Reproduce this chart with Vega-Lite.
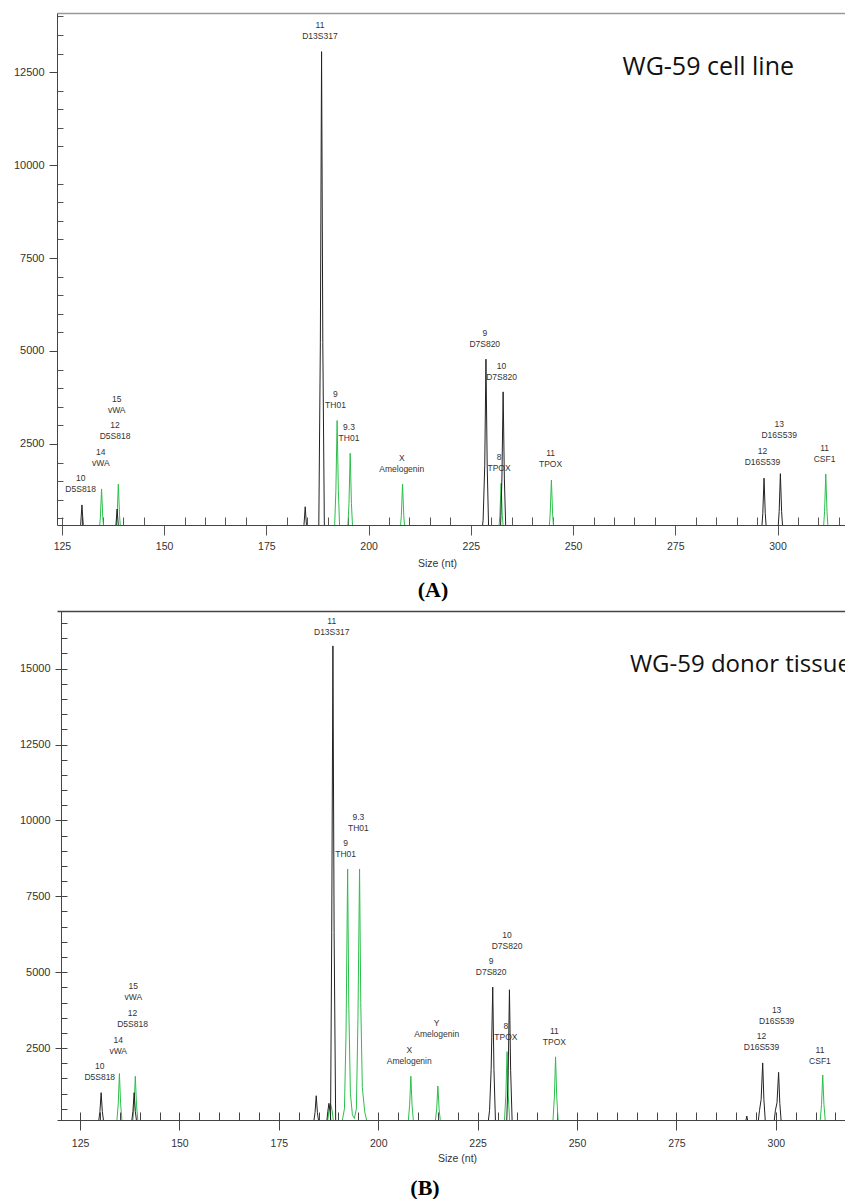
{
  "$schema": "https://vega.github.io/schema/vega-lite/v6.json",
  "padding": {"left": 12, "top": 13, "right": 0, "bottom": 0},
  "spacing": 10,
  "config": {"view": {"stroke": null}, "background": "white"},
  "datasets": {
    "ta": [
      {"s":"k","p":"a1","x":129.2,"y":0},{"s":"k","p":"a1","x":129.6,"y":344},{"s":"k","p":"a1","x":129.9,"y":860},{"s":"k","p":"a1","x":130.2,"y":344},{"s":"k","p":"a1","x":130.6,"y":0},
      {"s":"k","p":"a2","x":137.8,"y":0},{"s":"k","p":"a2","x":138.2,"y":300},{"s":"k","p":"a2","x":138.5,"y":750},{"s":"k","p":"a2","x":138.8,"y":300},{"s":"k","p":"a2","x":139.2,"y":0},
      {"s":"k","p":"a3","x":183.8,"y":0},{"s":"k","p":"a3","x":184.2,"y":324},{"s":"k","p":"a3","x":184.5,"y":810},{"s":"k","p":"a3","x":184.8,"y":324},{"s":"k","p":"a3","x":185.2,"y":0},
      {"s":"k","p":"a4","x":187.8,"y":0},{"s":"k","p":"a4","x":188.2,"y":5220},{"s":"k","p":"a4","x":188.5,"y":13050},{"s":"k","p":"a4","x":188.8,"y":5220},{"s":"k","p":"a4","x":189.2,"y":0},
      {"s":"k","p":"a5","x":227.6,"y":0},{"s":"k","p":"a5","x":228.0,"y":450},{"s":"k","p":"a5","x":228.4,"y":1912},{"s":"k","p":"a5","x":228.7,"y":4780},{"s":"k","p":"a5","x":229.0,"y":1912},{"s":"k","p":"a5","x":229.4,"y":0},
      {"s":"k","p":"a6","x":232.2,"y":0},{"s":"k","p":"a6","x":232.6,"y":1560},{"s":"k","p":"a6","x":232.9,"y":3900},{"s":"k","p":"a6","x":233.2,"y":1560},{"s":"k","p":"a6","x":233.6,"y":0},
      {"s":"k","p":"a7","x":296.0,"y":0},{"s":"k","p":"a7","x":296.4,"y":632},{"s":"k","p":"a7","x":296.7,"y":1580},{"s":"k","p":"a7","x":297.0,"y":632},{"s":"k","p":"a7","x":297.4,"y":0},
      {"s":"k","p":"a8","x":300.0,"y":0},{"s":"k","p":"a8","x":300.4,"y":680},{"s":"k","p":"a8","x":300.7,"y":1700},{"s":"k","p":"a8","x":301.0,"y":680},{"s":"k","p":"a8","x":301.4,"y":0},
      {"s":"g","p":"a9","x":134.0,"y":0},{"s":"g","p":"a9","x":134.4,"y":516},{"s":"g","p":"a9","x":134.7,"y":1290},{"s":"g","p":"a9","x":135.0,"y":516},{"s":"g","p":"a9","x":135.4,"y":0},
      {"s":"g","p":"a10","x":138.1,"y":0},{"s":"g","p":"a10","x":138.5,"y":568},{"s":"g","p":"a10","x":138.8,"y":1420},{"s":"g","p":"a10","x":139.1,"y":568},{"s":"g","p":"a10","x":139.5,"y":0},
      {"s":"g","p":"a11","x":191.6,"y":0},{"s":"g","p":"a11","x":192.0,"y":1252},{"s":"g","p":"a11","x":192.3,"y":3130},{"s":"g","p":"a11","x":192.6,"y":1252},{"s":"g","p":"a11","x":193.0,"y":0},
      {"s":"g","p":"a12","x":194.8,"y":0},{"s":"g","p":"a12","x":195.2,"y":900},{"s":"g","p":"a12","x":195.5,"y":2250},{"s":"g","p":"a12","x":195.8,"y":900},{"s":"g","p":"a12","x":196.2,"y":0},
      {"s":"g","p":"a13","x":207.6,"y":0},{"s":"g","p":"a13","x":208.0,"y":568},{"s":"g","p":"a13","x":208.3,"y":1420},{"s":"g","p":"a13","x":208.6,"y":568},{"s":"g","p":"a13","x":209.0,"y":0},
      {"s":"g","p":"a14","x":231.7,"y":0},{"s":"g","p":"a14","x":232.1,"y":576},{"s":"g","p":"a14","x":232.4,"y":1440},{"s":"g","p":"a14","x":232.7,"y":576},{"s":"g","p":"a14","x":233.1,"y":0},
      {"s":"g","p":"a15","x":244.0,"y":0},{"s":"g","p":"a15","x":244.4,"y":612},{"s":"g","p":"a15","x":244.7,"y":1530},{"s":"g","p":"a15","x":245.0,"y":612},{"s":"g","p":"a15","x":245.4,"y":0},
      {"s":"g","p":"a16","x":311.1,"y":0},{"s":"g","p":"a16","x":311.5,"y":676},{"s":"g","p":"a16","x":311.8,"y":1690},{"s":"g","p":"a16","x":312.1,"y":676},{"s":"g","p":"a16","x":312.5,"y":0}
    ],
    "tb": [
      {"s":"k","p":"b1","x":129.6,"y":0},{"s":"k","p":"b1","x":130.0,"y":412},{"s":"k","p":"b1","x":130.3,"y":1030},{"s":"k","p":"b1","x":130.6,"y":412},{"s":"k","p":"b1","x":131.0,"y":0},
      {"s":"k","p":"b2","x":137.9,"y":0},{"s":"k","p":"b2","x":138.3,"y":412},{"s":"k","p":"b2","x":138.6,"y":1030},{"s":"k","p":"b2","x":138.9,"y":412},{"s":"k","p":"b2","x":139.3,"y":0},
      {"s":"k","p":"b3","x":183.7,"y":0},{"s":"k","p":"b3","x":184.1,"y":372},{"s":"k","p":"b3","x":184.4,"y":930},{"s":"k","p":"b3","x":184.7,"y":372},{"s":"k","p":"b3","x":185.1,"y":0},
      {"s":"k","p":"b4","x":187.0,"y":0},{"s":"k","p":"b4","x":187.3,"y":400},{"s":"k","p":"b4","x":187.6,"y":680},{"s":"k","p":"b4","x":187.9,"y":400},{"s":"k","p":"b4","x":188.1,"y":0},
      {"s":"k","p":"b5","x":188.0,"y":0},{"s":"k","p":"b5","x":188.3,"y":6300},{"s":"k","p":"b5","x":188.6,"y":15750},{"s":"k","p":"b5","x":188.9,"y":6300},{"s":"k","p":"b5","x":189.3,"y":0},
      {"s":"k","p":"b6","x":227.6,"y":0},{"s":"k","p":"b6","x":228.0,"y":450},{"s":"k","p":"b6","x":228.4,"y":1800},{"s":"k","p":"b6","x":228.8,"y":4510},{"s":"k","p":"b6","x":229.1,"y":1800},{"s":"k","p":"b6","x":229.5,"y":0},
      {"s":"k","p":"b7","x":232.3,"y":0},{"s":"k","p":"b7","x":232.7,"y":1768},{"s":"k","p":"b7","x":233.0,"y":4420},{"s":"k","p":"b7","x":233.3,"y":1768},{"s":"k","p":"b7","x":233.7,"y":0},
      {"s":"k","p":"b8","x":292.3,"y":0},{"s":"k","p":"b8","x":292.7,"y":260},{"s":"k","p":"b8","x":293.1,"y":0},
      {"s":"k","p":"b9","x":295.5,"y":0},{"s":"k","p":"b9","x":295.9,"y":450},{"s":"k","p":"b9","x":296.3,"y":800},{"s":"k","p":"b9","x":296.7,"y":2010},{"s":"k","p":"b9","x":297.0,"y":800},{"s":"k","p":"b9","x":297.4,"y":0},
      {"s":"k","p":"b10","x":299.5,"y":0},{"s":"k","p":"b10","x":299.9,"y":450},{"s":"k","p":"b10","x":300.3,"y":700},{"s":"k","p":"b10","x":300.7,"y":1700},{"s":"k","p":"b10","x":301.0,"y":680},{"s":"k","p":"b10","x":301.4,"y":0},
      {"s":"g","p":"g1","x":134.2,"y":0},{"s":"g","p":"g1","x":134.6,"y":664},{"s":"g","p":"g1","x":134.9,"y":1660},{"s":"g","p":"g1","x":135.2,"y":664},{"s":"g","p":"g1","x":135.6,"y":0},
      {"s":"g","p":"g2","x":138.2,"y":0},{"s":"g","p":"g2","x":138.6,"y":628},{"s":"g","p":"g2","x":138.9,"y":1570},{"s":"g","p":"g2","x":139.2,"y":628},{"s":"g","p":"g2","x":139.6,"y":0},
      {"s":"g","p":"g3","x":187.2,"y":0},{"s":"g","p":"g3","x":187.6,"y":450},{"s":"g","p":"g3","x":188.0,"y":650},{"s":"g","p":"g3","x":188.4,"y":450},{"s":"g","p":"g3","x":188.8,"y":0},
      {"s":"g","p":"g4","x":190.8,"y":0},{"s":"g","p":"g4","x":191.5,"y":500},{"s":"g","p":"g4","x":191.9,"y":3000},{"s":"g","p":"g4","x":192.3,"y":8400},{"s":"g","p":"g4","x":192.6,"y":3800},{"s":"g","p":"g4","x":193.0,"y":1000},{"s":"g","p":"g4","x":193.5,"y":300},{"s":"g","p":"g4","x":194.0,"y":180},{"s":"g","p":"g4","x":194.5,"y":500},{"s":"g","p":"g4","x":194.9,"y":3500},{"s":"g","p":"g4","x":195.3,"y":8400},{"s":"g","p":"g4","x":195.6,"y":4000},{"s":"g","p":"g4","x":196.0,"y":1200},{"s":"g","p":"g4","x":196.6,"y":400},{"s":"g","p":"g4","x":197.3,"y":0},
      {"s":"g","p":"g5","x":207.5,"y":0},{"s":"g","p":"g5","x":207.9,"y":628},{"s":"g","p":"g5","x":208.2,"y":1570},{"s":"g","p":"g5","x":208.5,"y":628},{"s":"g","p":"g5","x":208.9,"y":0},
      {"s":"g","p":"g6","x":214.3,"y":0},{"s":"g","p":"g6","x":214.7,"y":500},{"s":"g","p":"g6","x":215.0,"y":1250},{"s":"g","p":"g6","x":215.3,"y":500},{"s":"g","p":"g6","x":215.7,"y":0},
      {"s":"g","p":"g7","x":231.7,"y":0},{"s":"g","p":"g7","x":232.1,"y":952},{"s":"g","p":"g7","x":232.4,"y":2380},{"s":"g","p":"g7","x":232.7,"y":952},{"s":"g","p":"g7","x":233.1,"y":0},
      {"s":"g","p":"g8","x":243.9,"y":0},{"s":"g","p":"g8","x":244.3,"y":884},{"s":"g","p":"g8","x":244.6,"y":2210},{"s":"g","p":"g8","x":244.9,"y":884},{"s":"g","p":"g8","x":245.3,"y":0},
      {"s":"g","p":"g9","x":311.1,"y":0},{"s":"g","p":"g9","x":311.5,"y":644},{"s":"g","p":"g9","x":311.8,"y":1610},{"s":"g","p":"g9","x":312.1,"y":644},{"s":"g","p":"g9","x":312.5,"y":0}
    ],
    "la": [
      {"x":129.6,"y":1594,"a":"10","l":"D5S818"},
      {"x":134.5,"y":2293,"a":"14","l":"vWA"},
      {"x":138.0,"y":3011,"a":"12","l":"D5S818"},
      {"x":138.4,"y":3710,"a":"15","l":"vWA"},
      {"x":188.1,"y":13763,"a":"11","l":"D13S317"},
      {"x":191.9,"y":3844,"a":"9","l":"TH01"},
      {"x":195.2,"y":2957,"a":"9.3","l":"TH01"},
      {"x":208.1,"y":2124,"a":"X","l":"Amelogenin"},
      {"x":228.4,"y":5484,"a":"9","l":"D7S820"},
      {"x":232.5,"y":4597,"a":"10","l":"D7S820"},
      {"x":231.9,"y":2151,"a":"8","l":"TPOX"},
      {"x":244.5,"y":2258,"a":"11","l":"TPOX"},
      {"x":296.3,"y":2312,"a":"12","l":"D16S539"},
      {"x":300.4,"y":3038,"a":"13","l":"D16S539"},
      {"x":311.5,"y":2392,"a":"11","l":"CSF1"}
    ],
    "lb": [
      {"x":129.95,"y":1904,"a":"10","l":"D5S818"},
      {"x":134.6,"y":2765,"a":"14","l":"vWA"},
      {"x":138.2,"y":3649,"a":"12","l":"D5S818"},
      {"x":138.4,"y":4530,"a":"15","l":"vWA"},
      {"x":188.3,"y":16582,"a":"11","l":"D13S317"},
      {"x":195.0,"y":10105,"a":"9.3","l":"TH01"},
      {"x":191.8,"y":9254,"a":"9","l":"TH01"},
      {"x":207.8,"y":2434,"a":"X","l":"Amelogenin"},
      {"x":214.7,"y":3318,"a":"Y","l":"Amelogenin"},
      {"x":228.4,"y":5357,"a":"9","l":"D7S820"},
      {"x":232.4,"y":6241,"a":"10","l":"D7S820"},
      {"x":232.1,"y":3228,"a":"8","l":"TPOX"},
      {"x":244.3,"y":3063,"a":"11","l":"TPOX"},
      {"x":296.4,"y":2897,"a":"12","l":"D16S539"},
      {"x":300.2,"y":3758,"a":"13","l":"D16S539"},
      {"x":311.1,"y":2434,"a":"11","l":"CSF1"}
    ],
    "ha": [{"x":262.1,"y":12419,"t":"WG-59 cell line"}],
    "hb": [{"x":263.3,"y":14883,"t":"WG-59 donor tissue"}]
  },
  "vconcat": [
    {
      "width": 788,
      "height": 512,
      "title": {"text": "(A)", "orient": "bottom", "font": "Liberation Serif", "fontSize": 22, "fontWeight": "bold", "color": "#000", "offset": 11, "dx": -18},
      "layer": [
        {
          "data": {"name": "ta"},
          "transform": [{"filter": "datum.s === 'g'"}],
          "mark": {"type": "line", "color": "#2cbf4c", "strokeWidth": 1, "clip": true},
          "encoding": {
            "x": {"field": "x", "type": "quantitative", "scale": {"domain": [123.8, 316.5], "nice": false, "zero": false},
              "axis": {"orient": "bottom", "values": [125,130,135,140,145,155,160,165,170,180,185,190,195,205,210,215,220,230,235,240,245,255,260,265,270,280,285,290,295,305,310,315], "tickSize": -8, "labels": false, "domain": false, "grid": false, "title": null, "tickColor": "#555", "minExtent": 0, "maxExtent": 0}},
            "y": {"field": "y", "type": "quantitative", "scale": {"domain": [320, 14090], "nice": false, "zero": false},
              "axis": {"orient": "left", "values": [500,1000,1500,2000,3000,3500,4000,4500,5500,6000,6500,7000,8000,8500,9000,9500,10500,11000,11500,12000,13000,13500,14000], "tickSize": -6, "labels": false, "domain": false, "grid": false, "title": null, "tickColor": "#555", "minExtent": 45, "maxExtent": 45}},
            "detail": {"field": "p"}
          }
        },
        {
          "data": {"name": "ta"},
          "transform": [{"filter": "datum.s === 'k'"}],
          "mark": {"type": "line", "color": "#222", "strokeWidth": 1, "clip": true},
          "encoding": {
            "x": {"field": "x", "type": "quantitative", "scale": {"domain": [123.8, 316.5], "nice": false, "zero": false},
              "axis": {"orient": "bottom", "values": [125,150,175,200,225,250,275,300], "tickSize": 10, "labelPadding": 6, "labelFont": "Liberation Sans", "labelFontSize": 10.5, "labelColor": "#333", "domainColor": "#444", "tickColor": "#555", "grid": false,
                "title": "Size (nt)", "titleFont": "Liberation Sans", "titleFontSize": 10.5, "titleFontWeight": "normal", "titleColor": "#333", "titlePadding": 7, "titleX": 380}},
            "y": {"field": "y", "type": "quantitative", "scale": {"domain": [320, 14090], "nice": false, "zero": false},
              "axis": {"orient": "left", "values": [2500,5000,7500,10000,12500], "format": "d", "tickSize": 8, "labelPadding": 5, "labelFont": "Liberation Sans", "labelFontSize": 11, "labelColor": "#333", "domainColor": "#444", "tickColor": "#444", "grid": false, "title": null, "minExtent": 45, "maxExtent": 45}},
            "detail": {"field": "p"}
          }
        },
        {
          "data": {"name": "la"},
          "mark": {"type": "text", "font": "Liberation Sans", "fontSize": 8.5, "color": "#333", "baseline": "middle", "align": "center"},
          "encoding": {
            "x": {"field": "x", "type": "quantitative", "axis": {"orient": "top", "ticks": false, "labels": false, "domain": true, "domainColor": "#999", "domainWidth": 1.5, "grid": false, "title": null, "minExtent": 0, "maxExtent": 0}},
            "y": {"field": "y", "type": "quantitative", "axis": null},
            "text": {"field": "a"}
          }
        },
        {
          "data": {"name": "la"},
          "mark": {"type": "text", "font": "Liberation Sans", "fontSize": 8.5, "color": "#333", "baseline": "middle", "align": "center", "dy": 11},
          "encoding": {
            "x": {"field": "x", "type": "quantitative", "axis": null},
            "y": {"field": "y", "type": "quantitative", "axis": null},
            "text": {"field": "l"}
          }
        },
        {
          "data": {"name": "ha"},
          "mark": {"type": "text", "font": "Open Sans", "fontSize": 25, "color": "#111", "baseline": "alphabetic", "align": "left", "clip": true},
          "encoding": {
            "x": {"field": "x", "type": "quantitative", "axis": null},
            "y": {"field": "y", "type": "quantitative", "axis": null},
            "text": {"field": "t"}
          }
        }
      ],
      "resolve": {"axis": {"x": "independent", "y": "independent"}}
    },
    {
      "width": 788,
      "height": 509,
      "title": {"text": "(B)", "orient": "bottom", "font": "Liberation Serif", "fontSize": 22, "fontWeight": "bold", "color": "#000", "offset": 14, "dx": -26},
      "layer": [
        {
          "data": {"name": "tb"},
          "transform": [{"filter": "datum.s === 'g'"}],
          "mark": {"type": "line", "color": "#2cbf4c", "strokeWidth": 1, "clip": true},
          "encoding": {
            "x": {"field": "x", "type": "quantitative", "scale": {"domain": [119.2, 317.4], "nice": false, "zero": false},
              "axis": {"orient": "bottom", "values": [125,130,135,140,145,150,155,160,165,170,175,180,185,190,195,200,205,210,215,220,225,230,235,240,245,250,255,260,265,270,275,280,285,290,295,300,305,310,315], "tickSize": -8, "labels": false, "domain": false, "grid": false, "title": null, "tickColor": "#444", "minExtent": 0, "maxExtent": 0}},
            "y": {"field": "y", "type": "quantitative", "scale": {"domain": [130, 16900], "nice": false, "zero": false},
              "axis": {"orient": "left", "offset": -4, "values": [500,1000,1500,2000,2500,3000,3500,4000,4500,5000,5500,6000,6500,7000,7500,8000,8500,9000,9500,10000,10500,11000,11500,12000,12500,13000,13500,14000,14500,15000,15500,16000,16500], "tickSize": -6, "labels": false, "domain": false, "grid": false, "title": null, "tickColor": "#444", "minExtent": 45, "maxExtent": 45}},
            "detail": {"field": "p"}
          }
        },
        {
          "data": {"name": "tb"},
          "transform": [{"filter": "datum.s === 'k'"}],
          "mark": {"type": "line", "color": "#222", "strokeWidth": 1, "clip": true},
          "encoding": {
            "x": {"field": "x", "type": "quantitative", "scale": {"domain": [119.2, 317.4], "nice": false, "zero": false},
              "axis": {"orient": "bottom", "values": [125,150,175,200,225,250,275,300], "tickSize": 10, "labelPadding": 8, "labelFont": "Liberation Sans", "labelFontSize": 10.5, "labelColor": "#333", "domainColor": "#444", "tickColor": "#444", "grid": false,
                "title": "Size (nt)", "titleFont": "Liberation Sans", "titleFontSize": 10.5, "titleFontWeight": "normal", "titleColor": "#333", "titlePadding": 5, "titleX": 400}},
            "y": {"field": "y", "type": "quantitative", "scale": {"domain": [130, 16900], "nice": false, "zero": false},
              "axis": {"orient": "left", "offset": -4, "values": [2500,5000,7500,10000,12500,15000], "format": "d", "tickSize": 6, "labelPadding": 5, "labelFont": "Liberation Sans", "labelFontSize": 11, "labelColor": "#333", "domainColor": "#444", "tickColor": "#444", "grid": false, "title": null, "minExtent": 45, "maxExtent": 45}},
            "detail": {"field": "p"}
          }
        },
        {
          "data": {"name": "lb"},
          "mark": {"type": "text", "font": "Liberation Sans", "fontSize": 8.5, "color": "#333", "baseline": "middle", "align": "center"},
          "encoding": {
            "x": {"field": "x", "type": "quantitative", "axis": {"orient": "top", "ticks": false, "labels": false, "domain": true, "domainColor": "#444", "domainWidth": 1.5, "grid": false, "title": null, "minExtent": 0, "maxExtent": 0}},
            "y": {"field": "y", "type": "quantitative", "axis": null},
            "text": {"field": "a"}
          }
        },
        {
          "data": {"name": "lb"},
          "mark": {"type": "text", "font": "Liberation Sans", "fontSize": 8.5, "color": "#333", "baseline": "middle", "align": "center", "dy": 11},
          "encoding": {
            "x": {"field": "x", "type": "quantitative", "axis": null},
            "y": {"field": "y", "type": "quantitative", "axis": null},
            "text": {"field": "l"}
          }
        },
        {
          "data": {"name": "hb"},
          "mark": {"type": "text", "font": "Open Sans", "fontSize": 24, "color": "#111", "baseline": "alphabetic", "align": "left", "clip": true},
          "encoding": {
            "x": {"field": "x", "type": "quantitative", "axis": null},
            "y": {"field": "y", "type": "quantitative", "axis": null},
            "text": {"field": "t"}
          }
        }
      ],
      "resolve": {"axis": {"x": "independent", "y": "independent"}}
    }
  ]
}
